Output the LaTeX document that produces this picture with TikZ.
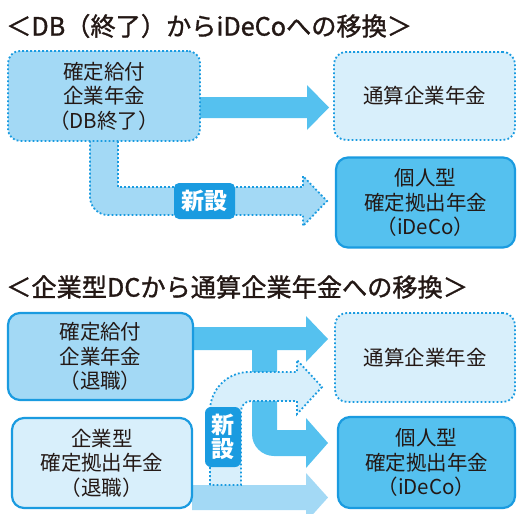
\documentclass[tikz,border=0pt]{standalone}
\usepackage{fontspec}
\setmainfont{Noto Sans CJK JP}
\newfontfamily\titlefont[FakeBold=1.2]{Noto Sans CJK JP}
\definecolor{cdark}{HTML}{1A9BE0}
\definecolor{cmid}{HTML}{55C1EF}
\definecolor{clight}{HTML}{A3D9F5}
\definecolor{cpale}{HTML}{D8EFFB}
\definecolor{ctext}{HTML}{231815}
\tikzset{
  boxbase/.style={rectangle, rounded corners=12pt, align=center, text=ctext,
    inner sep=0pt, font=\fontsize{20.5}{24.5}\selectfont},
  solidbox/.style={boxbase, draw=cdark, line width=2.2pt},
  dotbox/.style={boxbase, draw=cdark, line width=1.8pt, dash pattern=on 1.8pt off 2.2pt},
  dotline/.style={draw=cdark, line width=1.8pt, dash pattern=on 1.8pt off 2.2pt},
  newlabel/.style={fill=cdark, text=white, rounded corners=5pt, inner sep=0pt, align=center,
    font=\bfseries\fontsize{23}{24}\selectfont},
  titletext/.style={anchor=west, inner sep=0pt, text=ctext, font=\titlefont\fontsize{25.2}{28}\selectfont}
}
\begin{document}
\begin{tikzpicture}[x=1pt,y=-1pt]
\useasboundingbox (0,0) rectangle (517,514);

% titles
\node[titletext] (t1) at (6,26) {＜DB（終了）からiDeCoへの移換＞};
\node[titletext] (t2) at (6,287) {＜企業型DCから通算企業年金への移換＞};

% ---------- top section ----------
% solid arrow DB -> 通算
\fill[cmid] (200,97) -- (307,97) -- (307,85) -- (329,107.5) -- (307,130) -- (307,118) -- (200,118) -- cycle;

% dotted L arrow DB -> iDeCo
\fill[clight] (90,141) -- (118,141) -- (118,187) -- (303,187) -- (303,176) -- (327,201)
  -- (303,226) -- (303,215) -- (108,215) arc[start angle=90,end angle=180,radius=18] -- (90,141) -- cycle;
\draw[dotline] (118,141) -- (118,187) -- (303,187) -- (303,176) -- (327,201)
  -- (303,226) -- (303,215) -- (108,215) arc[start angle=90,end angle=180,radius=18] -- (90,141);

\node[newlabel, minimum width=61, minimum height=36] (new1) at (204.5,201) {新設};

\node[dotbox, fill=clight, minimum width=192, minimum height=90] (db) at (104,96)
  {確定給付\\企業年金\\（DB終了）};
\node[dotbox, fill=cpale, minimum width=181, minimum height=88] (tsu1) at (424.5,96)
  {通算企業年金};
\node[solidbox, fill=cmid, minimum width=179, minimum height=90] (ide1) at (425.5,202.5)
  {個人型\\確定拠出年金\\（iDeCo）};

% ---------- bottom section ----------
% solid arrow with branch
\fill[cmid] (193,327) -- (306,327) -- (306,316) -- (328,339) -- (306,362) -- (306,350)
  -- (277,350) -- (277,430) -- (306,430) -- (306,418) -- (328,443) -- (306,468) -- (306,456)
  -- (274,456) arc[start angle=90,end angle=180,radius=22] -- (252,350) -- (193,350) -- cycle;

% light arrow DC -> iDeCo
\fill[clight] (192,485) -- (306,485) -- (306,473) -- (328,497.5) -- (306,522) -- (306,510) -- (192,510) -- cycle;

% dotted curved arrow
\fill[cpale] (210,485) -- (210,411) arc[start angle=180,end angle=270,radius=39] -- (297,372)
  -- (297,360) -- (322,387) -- (297,414) -- (297,401) -- (251,401)
  arc[start angle=270,end angle=180,radius=10] -- (241,485) -- cycle;
\draw[dotline] (210,485) -- (210,411) arc[start angle=180,end angle=270,radius=39] -- (297,372)
  -- (297,360) -- (322,387) -- (297,414) -- (297,401) -- (251,401)
  arc[start angle=270,end angle=180,radius=10] -- (241,485) -- cycle;

\node[newlabel, minimum width=36, minimum height=60, rounded corners=6pt] (new2) at (223,437) {新\\設};

\node[solidbox, fill=clight, minimum width=185, minimum height=87] (dbr) at (100.5,356.5)
  {確定給付\\企業年金\\（退職）};
\node[solidbox, fill=cpale, minimum width=180, minimum height=90] (dcr) at (102,463)
  {企業型\\確定拠出年金\\（退職）};
\node[dotbox, fill=cpale, minimum width=180, minimum height=89] (tsu2) at (425,357.5)
  {通算企業年金};
\node[solidbox, fill=cmid, minimum width=177, minimum height=91] (ide2) at (426.5,462.5)
  {個人型\\確定拠出年金\\（iDeCo）};
\end{tikzpicture}
\end{document}
